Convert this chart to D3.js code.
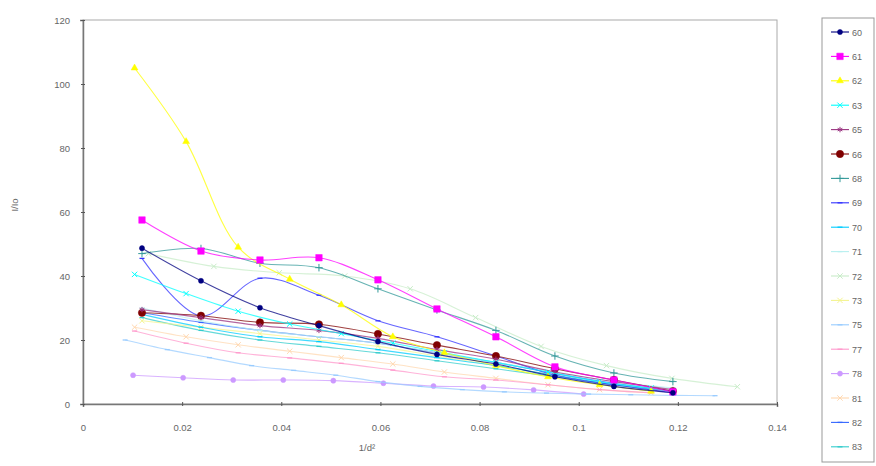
<!DOCTYPE html>
<html>
<head>
<meta charset="utf-8">
<script src="https://cdn.jsdelivr.net/npm/d3@7"></script>
<style>
  body { margin: 0; background: #fff; }
  text { font-family: "Liberation Sans", Arial, sans-serif; fill: #666; }
</style>
</head>
<body>
<div id="chart"></div>
<script>
// x positions (1/d^2) used by the different runs
var x84 = [0.0119, 0.0238, 0.0357, 0.0476, 0.0595, 0.0714, 0.0833, 0.0952, 0.1071, 0.119];
var x96 = [0.0104, 0.0208, 0.0313, 0.0417, 0.0521, 0.0625, 0.0729, 0.0833, 0.0938, 0.1042, 0.1146];
var x99 = [0.0101, 0.0202, 0.0303, 0.0404, 0.0505, 0.0606, 0.0707, 0.0808, 0.0909, 0.101];
var x132 = [0.0132, 0.0264, 0.0396, 0.0528, 0.066, 0.0792, 0.0924, 0.1056, 0.1188, 0.132];
var x85 = [0.0085, 0.017, 0.0255, 0.034, 0.0425, 0.051, 0.0595, 0.068, 0.0765, 0.085, 0.0935, 0.102, 0.1105, 0.119, 0.1275];

// y values (b/a) per run
var y60 = [48.7, 38.5, 30.1, 24.5, 19.5, 15.5, 12.5, 8.5, 5.5, 3.5];
var y61 = [57.5, 47.8, 45, 45.7, 38.8, 29.7, 21, 11.6, 7.5, 3.8];
var y62 = [105, 82, 49, 39, 31, 21, 16, 12, 8.5, 6, 4];
var y63 = [40.5, 34.5, 29, 25, 22, 19, 16, 13, 10, 7, 5];
var y65 = [29.5, 27, 24.5, 23, 20.5, 17, 14, 10, 7, 4.5];
var y66 = [28.5, 27.6, 25.5, 24.9, 21.9, 18.4, 15, 11, 7.5, 4];
var y68 = [47, 48.6, 44, 42.6, 36, 29.4, 23, 15, 9.7, 7];
var y69 = [45.5, 27.5, 39.3, 34, 26, 21, 15, 9, 6, 3.5];
var y70 = [28, 24, 21, 19.5, 17, 14.5, 12, 9, 6, 4];
var y71 = [30, 26, 23, 21, 19, 16, 13, 10, 7, 5];
var y72 = [47, 43, 41, 40, 36, 27, 18, 12, 8, 5.4];
var y73 = [26, 24, 22, 20, 18, 15, 12, 9, 6, 4];
var y75 = [20, 17, 14.5, 12, 10.5, 9, 7, 5.5, 4.5, 3.8, 3.4, 3.1, 2.9, 2.7, 2.6];
var y77 = [22.8, 19, 16, 14.4, 12.7, 10.6, 8.5, 7.5, 6, 4.5, 3.5];
var y78 = [9, 8.2, 7.5, 7.5, 7.3, 6.5, 5.6, 5.3, 4.4, 3.1];
var y81 = [24, 21, 18.5, 16.5, 14.5, 12.5, 10, 8, 6, 4.5, 3.5];
var y82 = [28.5, 25.5, 23, 21, 19, 16, 13, 9.5, 6.5, 4];
var y83 = [27, 23, 20, 18, 16, 13.5, 11, 8.5, 6, 4];

var seriesNames = ['60', '61', '62', '63', '65', '66', '68', '69', '70', '71', '72', '73', '75', '77', '78', '81', '82', '83'];
var seriesX = [x84, x84, x96, x96, x84, x84, x84, x84, x84, x84, x132, x84, x85, x96, x99, x96, x84, x84];
var seriesY = [y60, y61, y62, y63, y65, y66, y68, y69, y70, y71, y72, y73, y75, y77, y78, y81, y82, y83];

var xTicks = [0, 0.02, 0.04, 0.06, 0.08, 0.1, 0.12, 0.14];
var yTicks = [0, 20, 40, 60, 80, 100, 120];

// excel-ish colours and markers
var colors = ['#000080', '#ff00ff', '#ffff00', '#00ffff', '#993380', '#800000', '#339999', '#3333ff', '#00ccff',
              '#b8f0f0', '#c8ecc8', '#f4f490', '#99ccff', '#ff99cc', '#cc99ff', '#ffd8b0', '#3366ff', '#33cccc'];
var markers = ['circle', 'square', 'triangle', 'x', 'asterisk', 'circle', 'plus', 'dash', 'dash',
               'dash', 'x', 'x', 'dash', 'dash', 'circle', 'x', 'dash', 'dash'];

var W = 876, H = 466;
var plotL = 83, plotR = 777, plotT = 20, plotB = 404;

var svg = d3.select("#chart").append("svg")
    .attr("width", W).attr("height", H);
svg.append("rect").attr("width", W).attr("height", H).attr("fill", "#fff");

var x = d3.scaleLinear().domain([0, 0.14]).range([plotL, plotR]);
var y = d3.scaleLinear().domain([0, 120]).range([plotB, plotT]);

// plot frame
svg.append("rect")
    .attr("x", plotL).attr("y", plotT)
    .attr("width", plotR - plotL).attr("height", plotB - plotT)
    .attr("fill", "none").attr("stroke", "#aaa").attr("stroke-width", 1);

// axes
var xAxis = d3.axisBottom(x).tickValues(xTicks).tickSize(3).tickFormat(d3.format("~g"));
var gx = svg.append("g").attr("transform", "translate(0," + plotB + ")").call(xAxis);
gx.select(".domain").attr("stroke", "#777").attr("stroke-width", 1.5);
gx.selectAll(".tick line").attr("stroke", "#555").attr("y1", -2).attr("y2", 2);
gx.selectAll(".tick text").attr("y", 20).attr("font-size", 9.5).attr("fill", "#666").attr("font-family", "Liberation Sans, Arial, sans-serif");

var yAxis = d3.axisLeft(y).tickValues(yTicks).tickSize(3);
var gy = svg.append("g").attr("transform", "translate(" + plotL + ",0)").call(yAxis);
gy.select(".domain").attr("stroke", "#777").attr("stroke-width", 1.5);
gy.selectAll(".tick line").attr("stroke", "#555").attr("x1", -2).attr("x2", 2);
gy.selectAll(".tick text").attr("x", -13).attr("font-size", 9.5).attr("fill", "#666").attr("font-family", "Liberation Sans, Arial, sans-serif");

// axis titles
svg.append("text").attr("x", 367).attr("y", 451).attr("text-anchor", "middle")
    .attr("font-size", 9.5).text("1/d²");
svg.append("text").attr("transform", "translate(18,205) rotate(-90)").attr("text-anchor", "middle")
    .attr("font-size", 9.5).text("I/Io");

function drawMarker(sel, type, color, cx, cy, big) {
    var s = big ? 6.5 : 4.5;
    if (type === 'dash') {
        sel.append("line").attr("x1", cx - 2.5).attr("x2", cx + 2.5).attr("y1", cy).attr("y2", cy)
            .attr("stroke", color).attr("stroke-width", 1.3);
        return;
    }
    var sym = {
        diamond: d3.symbolDiamond, square: d3.symbolSquare, triangle: d3.symbolTriangle,
        circle: d3.symbolCircle, x: d3.symbolX, asterisk: d3.symbolAsterisk, plus: d3.symbolPlus
    }[type];
    var stroked = (type === 'x' || type === 'asterisk' || type === 'plus');
    sel.append("path")
        .attr("d", d3.symbol().type(sym).size(s * s)())
        .attr("transform", "translate(" + cx + "," + cy + ")")
        .attr("fill", stroked ? "none" : color)
        .attr("stroke", color)
        .attr("stroke-width", stroked ? 1 : 0.5);
}

var line = d3.line()
    .x(function(d) { return x(d[0]); })
    .y(function(d) { return y(d[1]); })
    .curve(d3.curveCatmullRom.alpha(0.5));

// draw series, last one first so the early runs stay on top
for (var i = seriesNames.length - 1; i >= 0; i--) {
    var pts = seriesX[i].map(function(v, k) { return [v, seriesY[i][k]]; });
    var g = svg.append("g").attr("class", "series");
    g.append("path")
        .attr("d", line(pts))
        .attr("fill", "none")
        .attr("stroke", colors[i])
        .attr("stroke-width", 1.1)
        .attr("stroke-opacity", 0.75);
    var big = (seriesNames[i] === '61' || seriesNames[i] === '66');
    pts.forEach(function(p) {
        drawMarker(g, markers[i], colors[i], x(p[0]), y(p[1]), big);
    });
}

// legend
var lg = svg.append("g");
lg.append("rect").attr("x", 822).attr("y", 18).attr("width", 52).attr("height", 444)
    .attr("fill", "#fff").attr("stroke", "#999").attr("stroke-width", 1);
seriesNames.forEach(function(name, i) {
    var ly = 32 + i * 24.4;
    lg.append("line").attr("x1", 831).attr("x2", 849).attr("y1", ly).attr("y2", ly)
        .attr("stroke", colors[i]).attr("stroke-width", 1.1);
    drawMarker(lg, markers[i], colors[i], 840, ly, name === '61' || name === '66');
    lg.append("text").attr("x", 852).attr("y", ly + 3.5).attr("font-size", 9).text(name);
});
</script>
</body>
</html>
